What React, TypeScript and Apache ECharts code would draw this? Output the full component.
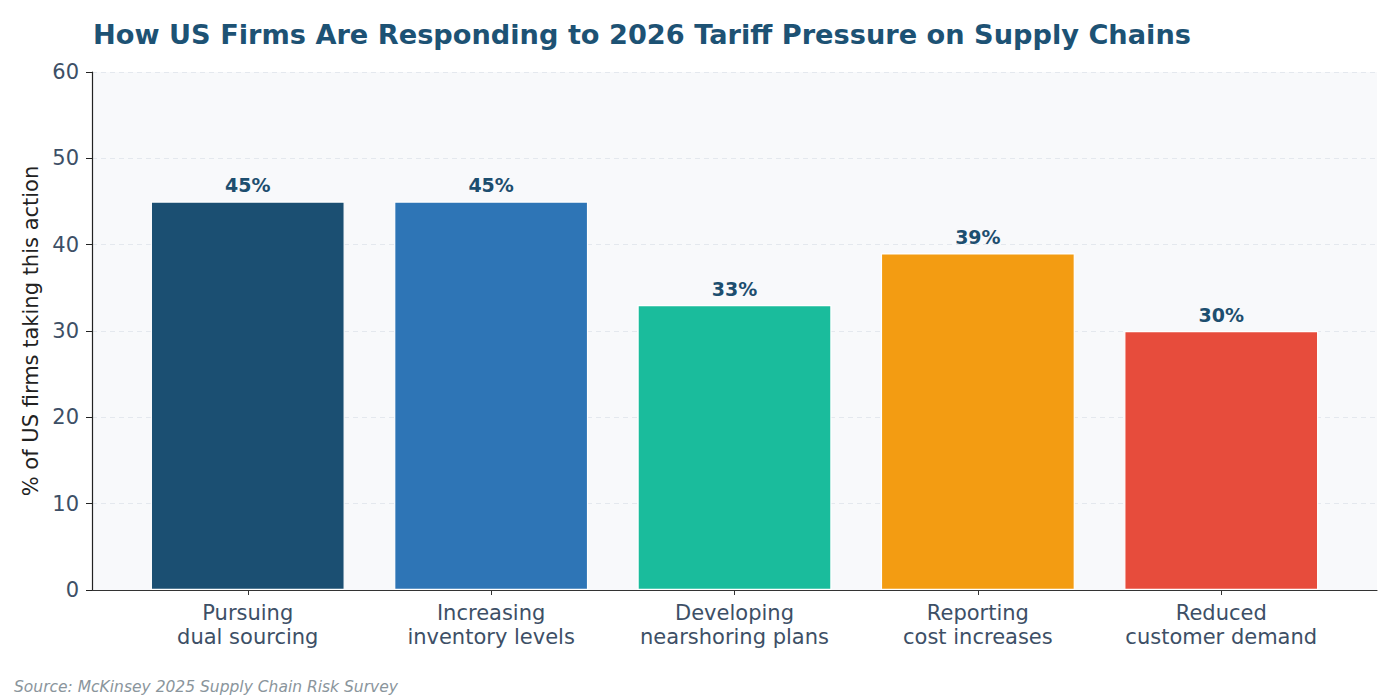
import React, { useEffect, useRef } from "react";
import * as echarts from "echarts";

const categories = [
  "Pursuing\ndual sourcing",
  "Increasing\ninventory levels",
  "Developing\nnearshoring plans",
  "Reporting\ncost increases",
  "Reduced\ncustomer demand",
];
const shares = [45, 45, 33, 39, 30];
const barColors = ["#1b4f72", "#2e75b6", "#1abc9c", "#f39c12", "#e74c3c"];
const yTicks = [0, 10, 20, 30, 40, 50, 60];

const FONT = "DejaVu Sans, Verdana, sans-serif";

export default function App() {
  const ref = useRef<HTMLDivElement>(null);

  useEffect(() => {
    document.body.style.margin = "0";
    if (!ref.current) return;
    const chart = echarts.init(ref.current, undefined, { renderer: "svg" });
    const positions = categories.map((_, i) => i);

    chart.setOption({
      animation: false,
      backgroundColor: "#ffffff",
      textStyle: { fontFamily: FONT },
      title: {
        text: "How US Firms Are Responding to 2026 Tariff Pressure on Supply Chains",
        left: 88,
        top: 16,
        textStyle: { fontFamily: FONT, fontWeight: "bold", fontSize: 27.2, color: "#1d5274" },
      },
      graphic: [
        {
          type: "text",
          left: 14,
          top: 679,
          style: {
            text: "Source: McKinsey 2025 Supply Chain Risk Survey",
            fontFamily: FONT,
            fontStyle: "italic",
            fontSize: 15.5,
            fill: "#8a959c",
          },
        },
      ],
      grid: {
        left: 92,
        right: 23,
        top: 72,
        bottom: 110,
        show: true,
        backgroundColor: "#f8f9fb",
        borderWidth: 0,
      },
      xAxis: {
        type: "value",
        min: -0.64,
        max: 4.64,
        splitLine: { show: false },
        axisLine: { show: true, onZero: false, lineStyle: { color: "#333333", width: 1.2 } },
        axisTick: {
          show: true,
          customValues: positions,
          length: 5,
          lineStyle: { color: "#333333" },
        },
        axisLabel: {
          customValues: positions,
          formatter: (v: number) => categories[Math.round(v)] ?? "",
          fontFamily: FONT,
          fontSize: 21,
          lineHeight: 24,
          color: "#3d4f66",
          margin: 11,
        },
      },
      yAxis: {
        type: "value",
        min: 0,
        max: 60,
        interval: 10,
        name: "% of US firms taking this action",
        nameLocation: "middle",
        nameGap: 49,
        nameTextStyle: { fontFamily: FONT, fontSize: 21, color: "#222222" },
        axisLine: { show: true, onZero: false, lineStyle: { color: "#222222", width: 1.2 } },
        axisTick: { show: true, length: 6, lineStyle: { color: "#222222" } },
        axisLabel: {
          fontFamily: FONT,
          fontSize: 21,
          color: "#3d4f66",
          margin: 13,
          formatter: (v: number) => (yTicks.includes(v) ? String(v) : ""),
        },
        splitLine: {
          show: true,
          lineStyle: { color: "#e4e8ee", type: [5, 4], width: 1 },
        },
      },
      series: [
        {
          type: "bar",
          barWidth: 194,
          data: shares.map((v, i) => ({
            value: [i, v],
            itemStyle: { color: barColors[i], borderColor: "#ffffff", borderWidth: 1.2 },
          })),
          label: {
            show: true,
            position: "top",
            distance: 7,
            formatter: (p: any) => `${p.value[1]}%`,
            fontFamily: FONT,
            fontWeight: "bold",
            fontSize: 19,
            color: "#1d4e6f",
          },
        },
      ],
    });

    return () => chart.dispose();
  }, []);

  return <div ref={ref} style={{ width: 1400, height: 700 }} />;
}
